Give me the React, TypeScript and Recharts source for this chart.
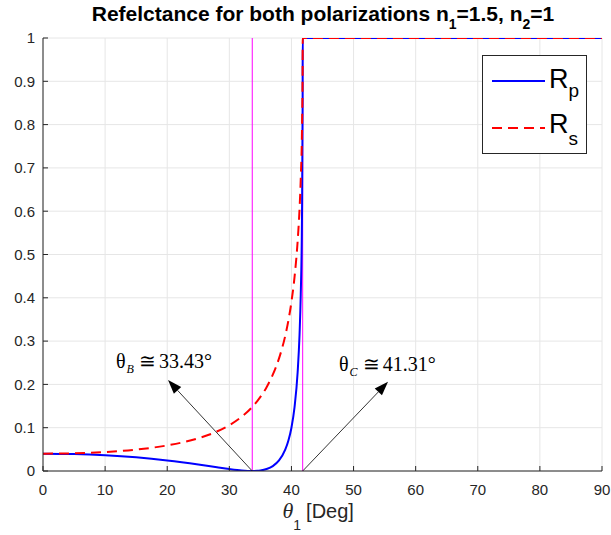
import React from 'react';
import { LineChart, Line, XAxis, YAxis, CartesianGrid, ReferenceLine, Legend } from 'recharts';

const thetaDeg = [0, 5, 10, 15, 20, 25, 28, 30, 32, 33.69, 34.5, 35, 36, 37, 38, 39, 39.5, 40, 40.5, 41, 41.3, 41.5, 41.7, 41.8, 41.81, 45, 50, 55, 60, 65, 70, 75, 80, 85, 90];
const rpValues = [0.04, 0.0391, 0.0363, 0.0315, 0.0244, 0.0151, 0.0087, 0.0046, 0.0013, 0, 0.0004, 0.0012, 0.0045, 0.0113, 0.0243, 0.0492, 0.0698, 0.1, 0.1473, 0.2285, 0.3136, 0.4082, 0.5886, 0.8512, 1, 1, 1, 1, 1, 1, 1, 1, 1, 1, 1];
const rsValues = [0.04, 0.0409, 0.0439, 0.0495, 0.0591, 0.0755, 0.0912, 0.1058, 0.1254, 0.1479, 0.1615, 0.1711, 0.1936, 0.2224, 0.26, 0.3122, 0.3469, 0.3905, 0.4483, 0.531, 0.604, 0.675, 0.791, 0.931, 1, 1, 1, 1, 1, 1, 1, 1, 1, 1, 1];

const xTicks = [0, 10, 20, 30, 40, 50, 60, 70, 80, 90];
const yTicks = [0, 0.1, 0.2, 0.3, 0.4, 0.5, 0.6, 0.7, 0.8, 0.9, 1];

const brewsterAngle = 33.69;
const criticalAngle = 41.81;
const brewsterLabel = '33.43°';
const criticalLabel = '41.31°';
const brewsterArrowTip = { x: 20.13, y: 0.21 };
const criticalArrowTip = { x: 55.55, y: 0.206 };

const data = thetaDeg.map((t, i) => ({ theta: t, Rp: rpValues[i], Rs: rsValues[i] }));

const AX = '#262626';
const SANS = '"Liberation Sans", Arial, Helvetica, sans-serif';
const SERIF = '"Liberation Serif", "Times New Roman", serif';

const makeArrow = (sub: string, value: string, dx: number, dy: number) => (props: any) => {
  const { x1, y1, x2, y2 } = props;
  const ang = Math.atan2(y2 - y1, x2 - x1);
  const len = 14;
  const half = 5;
  const bx = x2 - len * Math.cos(ang);
  const by = y2 - len * Math.sin(ang);
  const px = -Math.sin(ang) * half;
  const py = Math.cos(ang) * half;
  return (
    <g>
      <line x1={x1} y1={y1} x2={bx} y2={by} stroke="#000" strokeWidth={0.8} />
      <polygon points={`${x2},${y2} ${bx + px},${by + py} ${bx - px},${by - py}`} fill="#000" />
      <text x={x2 + dx} y={y2 + dy} fontFamily={SERIF} fontSize={20} fill="#000">
        <tspan>θ</tspan>
        <tspan fontSize={12} fontStyle="italic" dy={5} dx={1}>{sub}</tspan>
        <tspan dy={-5} dx={5}>≅</tspan>
        <tspan dx={3}>{value}</tspan>
      </text>
    </g>
  );
};

const LegendBox = () => (
  <svg width={106} height={100} style={{ display: 'block' }}>
    <rect x={0.5} y={0.5} width={104} height={98} fill="#fff" stroke={AX} strokeWidth={1} />
    <line x1={10} y1={26} x2={63} y2={26} stroke="#0000ff" strokeWidth={2} />
    <text x={67} y={33} fontFamily={SANS} fontSize={27} fill="#000">
      R<tspan fontSize={19} dy={9}>p</tspan>
    </text>
    <line x1={10} y1={73} x2={63} y2={73} stroke="#ff0000" strokeWidth={2} strokeDasharray="10 6" />
    <text x={67} y={78} fontFamily={SANS} fontSize={27} fill="#000">
      R<tspan fontSize={19} dy={12}>s</tspan>
    </text>
  </svg>
);

const XLabel = (props: any) => {
  const vb = props.viewBox || {};
  const cx = vb.x + vb.width / 2;
  return (
    <text x={cx - 40} y={518} fill={AX} fontSize={20} fontFamily={SANS}>
      <tspan fontFamily={SERIF} fontStyle="italic" fontSize={22}>θ</tspan>
      <tspan fontSize={14} dy={12}>1</tspan>
      <tspan dy={-12} dx={5}>[Deg]</tspan>
    </text>
  );
};

export default function App() {
  return (
    <div style={{ position: 'absolute', left: 0, top: 0, width: 611, height: 535, background: '#fff' }}>
      <div
        style={{
          position: 'absolute',
          left: 0,
          top: 2,
          width: 646,
          textAlign: 'center',
          fontFamily: SANS,
          fontWeight: 'bold',
          fontSize: 21,
          color: '#000',
          zIndex: 2,
          lineHeight: '24px',
          whiteSpace: 'nowrap',
        }}
      >
        Refelctance for both polarizations n
        <sub style={{ fontSize: 14, verticalAlign: -8 }}>1</sub>=1.5, n
        <sub style={{ fontSize: 14, verticalAlign: -8 }}>2</sub>=1
      </div>
      <LineChart width={611} height={535} data={data} margin={{ top: 38, right: 9, bottom: 0, left: 0 }}>
        <CartesianGrid stroke="#e6e6e6" strokeWidth={1} />
        <XAxis
          type="number"
          dataKey="theta"
          domain={[0, 90]}
          ticks={xTicks}
          height={64}
          stroke={AX}
          tickSize={-5}
          tickMargin={18}
          tick={{ fill: AX, fontSize: 15, fontFamily: SANS }}
          allowDataOverflow
          label={<XLabel />}
        />
        <YAxis
          type="number"
          domain={[0, 1]}
          ticks={yTicks}
          width={43}
          stroke={AX}
          tickSize={-5}
          tickMargin={13}
          tick={{ fill: AX, fontSize: 15, fontFamily: SANS }}
          tickFormatter={(v: number) => String(+v.toFixed(1))}
          allowDataOverflow
        />
        <ReferenceLine x={brewsterAngle} stroke="#ff00ff" strokeWidth={1} />
        <ReferenceLine x={criticalAngle} stroke="#ff00ff" strokeWidth={1} />
        <Line type="monotone" dataKey="Rp" stroke="#0000ff" strokeWidth={2} dot={false} isAnimationActive={false} />
        <Line type="monotone" dataKey="Rs" stroke="#ff0000" strokeWidth={2} strokeDasharray="10 6" dot={false} isAnimationActive={false} />
        <ReferenceLine
          segment={[{ x: brewsterAngle, y: 0 }, brewsterArrowTip]}
          shape={makeArrow('B', brewsterLabel, -52, -12)}
        />
        <ReferenceLine
          segment={[{ x: criticalAngle, y: 0 }, criticalArrowTip]}
          shape={makeArrow('C', criticalLabel, -49, -11)}
        />
        <Legend
          layout="horizontal"
          verticalAlign="middle"
          align="center"
          wrapperStyle={{ left: 482, top: 55, width: 106, height: 100 }}
          content={() => <LegendBox />}
        />
      </LineChart>
    </div>
  );
}
